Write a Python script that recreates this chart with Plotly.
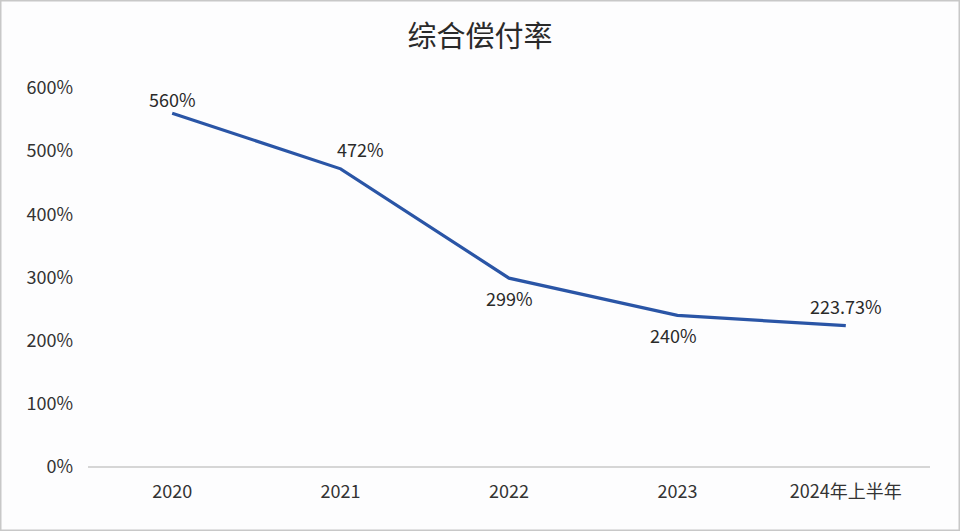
import plotly.graph_objects as go

categories = ["2020", "2021", "2022", "2023", "2024年上半年"]
values = [560, 472, 299, 240, 223.73]
labels = ["560%", "472%", "299%", "240%", "223.73%"]
tick_vals = [0, 100, 200, 300, 400, 500, 600]
tick_text = ["0%", "100%", "200%", "300%", "400%", "500%", "600%"]

label_yshift = [14, 20, -20, -20, 20]
label_xshift = [0, 20, 0, -4, 0]

xpos = list(range(len(categories)))

fig = go.Figure()
fig.add_trace(go.Scatter(
    x=xpos, y=values, mode="lines",
    line=dict(color="#2a55a6", width=3.2),
    hoverinfo="skip", showlegend=False,
))

for xi, v, t, dy, dx in zip(xpos, values, labels, label_yshift, label_xshift):
    fig.add_annotation(x=xi, y=v, text=t, showarrow=False, yshift=dy, xshift=dx,
                       font=dict(size=18, color="#2a2a2a"))

fig.update_layout(
    width=960, height=531,
    margin=dict(l=88, r=30, t=88, b=64),
    paper_bgcolor="#fdfdfe", plot_bgcolor="#fdfdfe",
    font=dict(family="Noto Sans CJK SC", size=18, color="#333333"),
    title=dict(text="综合偿付率", x=0.5, xanchor="center", y=0.93, yanchor="middle",
               font=dict(size=29, color="#2a2a2a")),
    xaxis=dict(range=[-0.5, 4.5], tickvals=xpos, ticktext=categories,
               showgrid=False, showline=False, zeroline=False,
               ticks="", ticklabelstandoff=12, tickfont=dict(size=18, color="#333333")),
    yaxis=dict(range=[0, 600], tickvals=tick_vals, ticktext=tick_text,
               showgrid=False, zeroline=True, zerolinecolor="#d6d6d6", zerolinewidth=1.5,
               showline=False, ticks="", ticklabelstandoff=14,
               tickfont=dict(size=18, color="#333333")),
)
fig.add_shape(type="rect", xref="paper", yref="paper",
              x0=-88/842, x1=1+30/842, y0=-64/379, y1=1+88/379,
              line=dict(color="#c8c8c8", width=3), layer="below")

fig.write_html("out.html", config={"displayModeBar": False},
               post_script="document.body.style.margin='0';")
